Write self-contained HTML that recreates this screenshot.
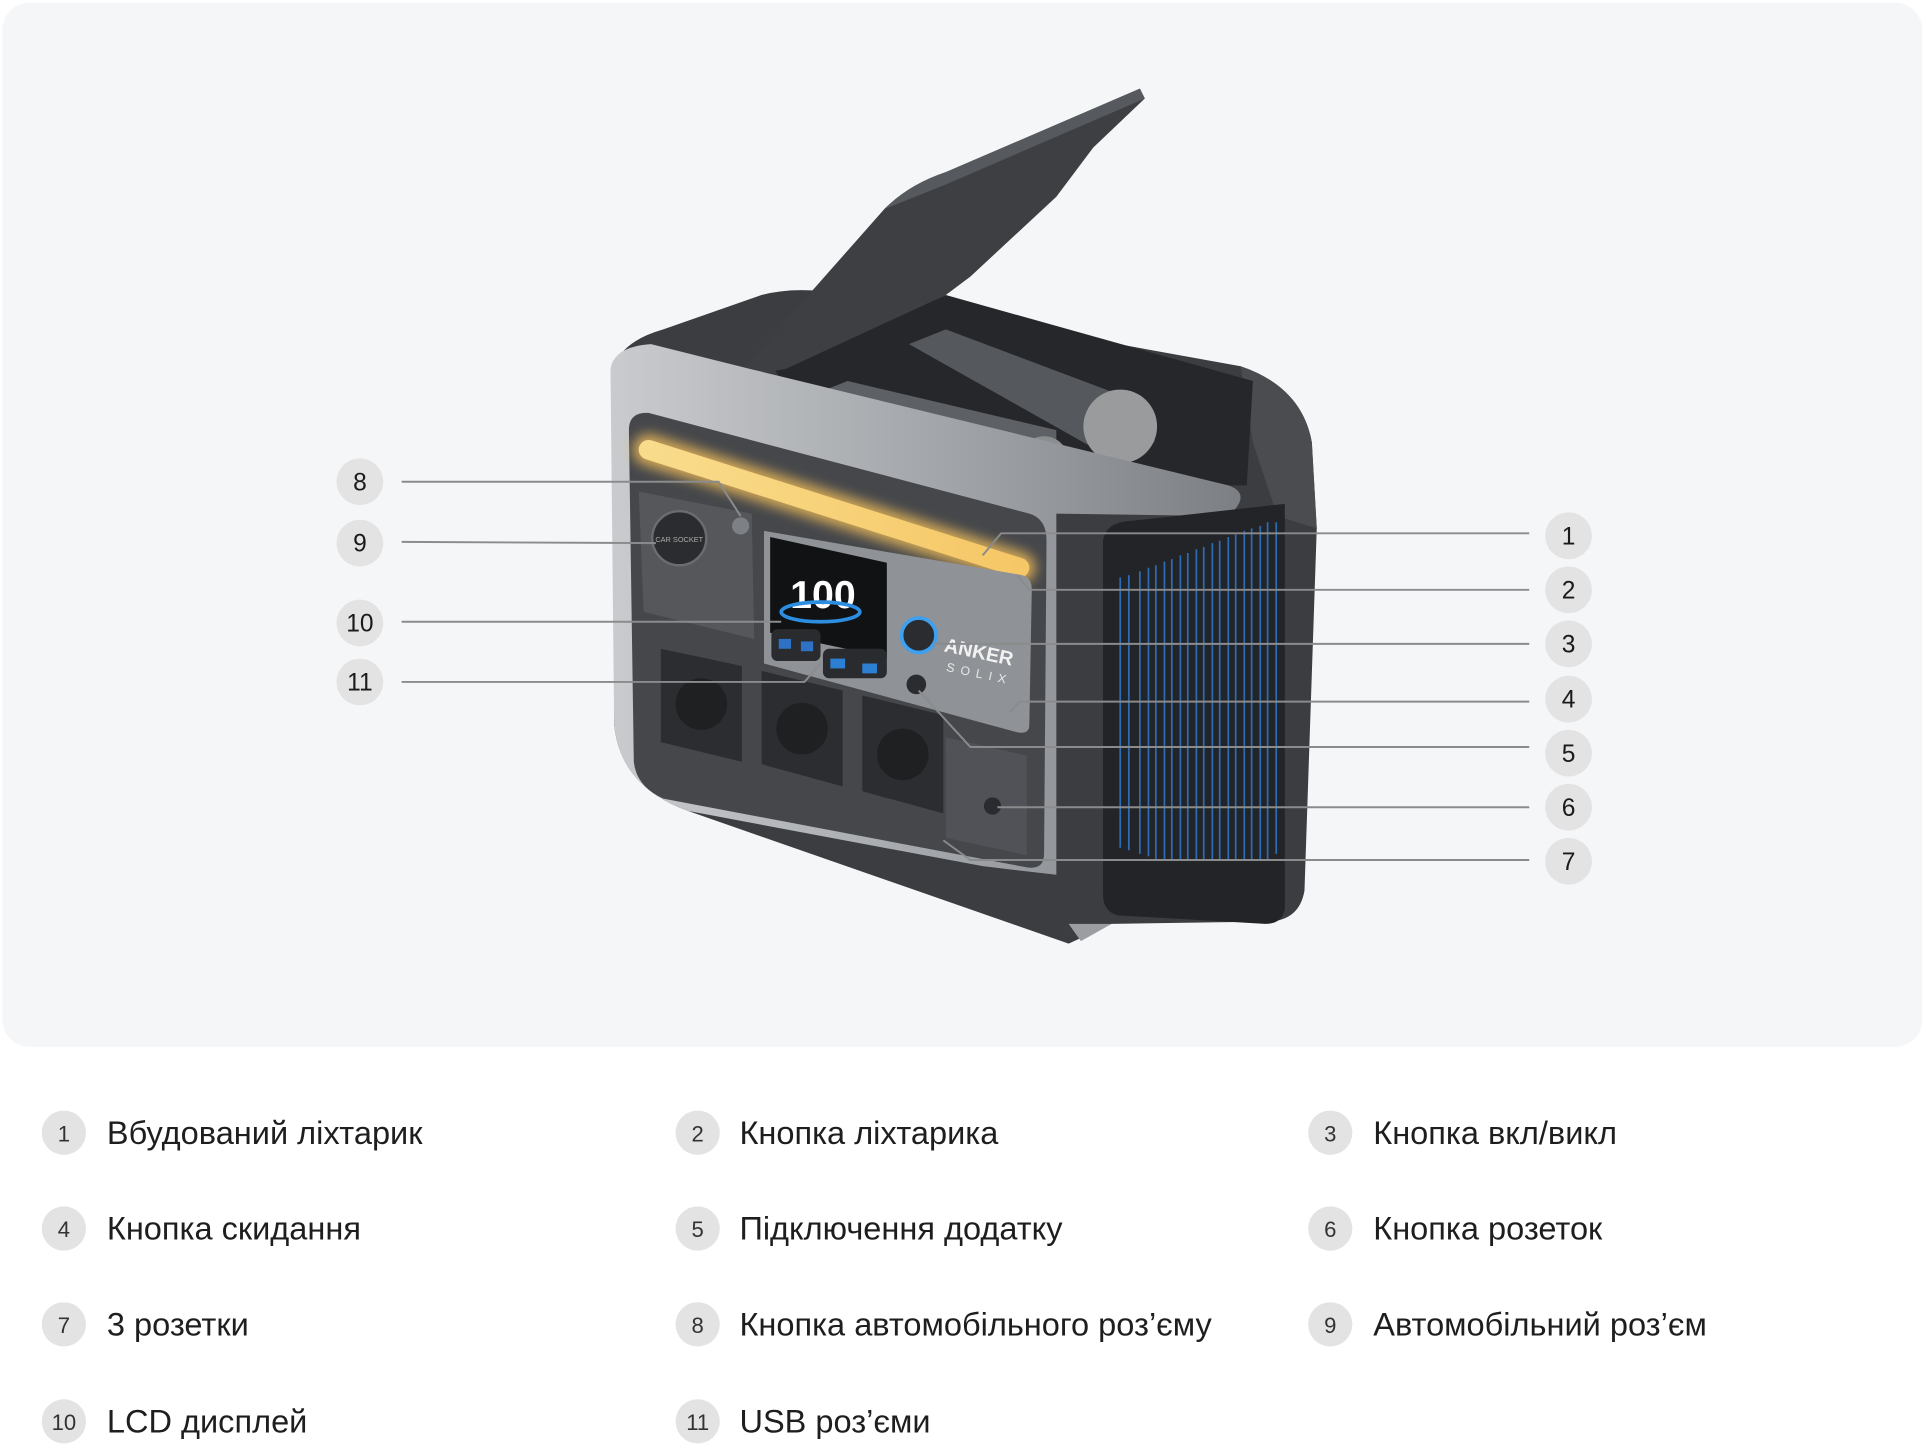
<!DOCTYPE html>
<html><head><meta charset="utf-8"><style>
html,body{margin:0;padding:0;background:#fff;}
svg{display:block;}
text{font-family:"Liberation Sans","DejaVu Sans",sans-serif;}
</style></head><body>
<svg width="1926" height="1456" viewBox="0 0 1568 1185" xmlns="http://www.w3.org/2000/svg">
<defs>
<linearGradient id="face" x1="0" y1="0" x2="1" y2="0">
<stop offset="0" stop-color="#c9cbce"/><stop offset="0.5" stop-color="#a4a7ab"/><stop offset="1" stop-color="#7c7f84"/>
</linearGradient>
<linearGradient id="light" x1="0" y1="0" x2="1" y2="0">
<stop offset="0" stop-color="#f8dc8c"/><stop offset="1" stop-color="#f6c766"/>
</linearGradient>
<filter id="glow" x="-20%" y="-50%" width="140%" height="200%"><feGaussianBlur stdDeviation="5"/></filter>
</defs>
<rect x="2" y="2" width="1563" height="850" rx="22" fill="#f5f6f7"/>

<path d="M500,300 Q505,278 540,268 L620,240 Q650,232 690,240 L1010,298 Q1060,315 1068,360 L1072,430 L1062,725 Q1058,748 1035,750 L905,752 L870,768 L560,660 Q505,640 500,590 Z" fill="#3b3d41"/>
<path d="M1010,298 Q1060,315 1068,360 L1072,430 L1040,420 L1020,360 Z" fill="#4a4c50"/>
<path d="M630,300 L770,240 L1020,310 L1015,395 L860,395 L650,330 Z" fill="#26272a"/>
<path d="M740,280 L770,268 L935,330 L940,360 L900,370 Z" fill="#55585c"/>
<path d="M665,320 L690,310 L860,350 L860,385 L830,390 Z" fill="#5d6064"/>
<circle cx="912" cy="347" r="30" fill="#9a9b9c"/>
<circle cx="850" cy="375" r="20" fill="#8c8d8f"/>
<path d="M598,308 L720,170 Q740,150 770,140 L928,72 L932,80 L890,120 L860,160 L790,225 L770,240 L640,300 Z" fill="#3d3f43"/>
<path d="M720,170 Q740,150 770,140 L928,72 L932,80 L770,150 Z" fill="#56595d"/>
<path d="M497,300 Q500,282 530,280 L610,300 L1000,395 Q1020,402 1000,420 L860,418 L860,712 L800,705 L560,660 Q505,640 500,590 Z" fill="url(#face)"/>
<path d="M512,350 Q512,335 528,336 L838,418 Q852,422 852,440 L850,695 Q850,708 836,706 L540,650 Q518,640 516,620 Z" fill="#45474b"/>
<line x1="528" y1="366" x2="830" y2="462" stroke="#f4c05a" stroke-width="26" stroke-linecap="round" filter="url(#glow)" opacity="0.8"/>
<line x1="528" y1="366" x2="830" y2="462" stroke="url(#light)" stroke-width="16" stroke-linecap="round"/>
<path d="M520,400 L612,418 L614,520 L524,498 Z" fill="#55575b"/>
<circle cx="553" cy="438" r="22" fill="#2b2c2f" stroke="#6a6c70" stroke-width="2"/>
<text x="553" y="441" font-size="6" fill="#aaa" text-anchor="middle">CAR SOCKET</text>
<circle cx="603" cy="428" r="7" fill="#7d8084"/>
<path d="M622,432 L832,468 Q840,470 840,480 L838,590 Q838,598 828,596 L622,540 Z" fill="#8f9296"/>
<path d="M627,437 L722,458 L722,535 L627,515 Z" fill="#111214"/>
<text x="670" y="495" font-size="32" fill="#fff" text-anchor="middle" font-weight="bold">100</text>
<ellipse cx="668" cy="498" rx="32" ry="8" fill="none" stroke="#2c8ee0" stroke-width="3"/>
<rect x="628" y="512" width="40" height="26" rx="5" fill="#2a2b2e"/>
<rect x="670" y="528" width="52" height="24" rx="5" fill="#2a2b2e"/>
<rect x="634" y="520" width="10" height="8" fill="#2d72c4"/><rect x="652" y="522" width="10" height="8" fill="#2d72c4"/>
<rect x="676" y="536" width="12" height="8" fill="#2d7fd4"/><rect x="702" y="540" width="12" height="8" fill="#2d7fd4"/>
<circle cx="748" cy="517" r="14" fill="#2a2c30" stroke="#3da0f0" stroke-width="3"/>
<text x="768" y="530" font-size="16" fill="#f2f2f2" font-weight="bold" transform="rotate(12 768 530)">ANKER</text>
<text x="770" y="546" font-size="10" fill="#e8e8e8" letter-spacing="5" transform="rotate(12 770 546)">SOLIX</text>
<circle cx="746" cy="557" r="8" fill="#2a2c30"/>
<path d="M538,528 L604,542 L604,620 L538,604 Z" fill="#2c2d30"/>
<path d="M620,546 L686,562 L686,640 L620,622 Z" fill="#2c2d30"/>
<path d="M702,566 L768,582 L768,662 L702,644 Z" fill="#2c2d30"/>
<circle cx="571" cy="573" r="21" fill="#1f2022"/><circle cx="653" cy="593" r="21" fill="#1f2022"/><circle cx="735" cy="614" r="21" fill="#1f2022"/>
<path d="M770,600 L836,615 L836,696 L770,682 Z" fill="#505257"/>
<circle cx="808" cy="656" r="7" fill="#2a2b2e"/>
<path d="M898,440 Q900,425 920,424 L1046,410 L1046,740 Q1044,752 1030,752 L910,745 Q898,742 898,728 Z" fill="#232427"/>
<g stroke="#2f7fd8" stroke-width="1.4" opacity="0.8">
<line x1="912" y1="470" x2="912" y2="690"/><line x1="919" y1="468" x2="919" y2="692"/><line x1="928" y1="465" x2="928" y2="695"/><line x1="935" y1="462" x2="935" y2="697"/><line x1="941" y1="460" x2="941" y2="700"/>
<line x1="948" y1="457" x2="948" y2="700"/><line x1="954" y1="455" x2="954" y2="700"/><line x1="961" y1="452" x2="961" y2="700"/><line x1="967" y1="450" x2="967" y2="700"/><line x1="974" y1="447" x2="974" y2="700"/><line x1="980" y1="445" x2="980" y2="700"/>
<line x1="987" y1="442" x2="987" y2="700"/><line x1="993" y1="440" x2="993" y2="700"/><line x1="1000" y1="437" x2="1000" y2="700"/><line x1="1006" y1="435" x2="1006" y2="700"/><line x1="1013" y1="432" x2="1013" y2="700"/><line x1="1019" y1="430" x2="1019" y2="700"/>
<line x1="1026" y1="428" x2="1026" y2="700"/><line x1="1032" y1="425" x2="1032" y2="700"/><line x1="1039" y1="425" x2="1039" y2="695"/>
</g>
<path d="M870,752 L905,752 L880,766 Z" fill="#9b9da1"/>

<g stroke="#8a8b8d" stroke-width="1.6" fill="none">
<polyline points="327,392 585,392 603,420"/>
<polyline points="327,441 534,442"/>
<polyline points="327,506 636,506"/>
<polyline points="327,555 655,555 668,540"/>
<polyline points="1245,434 815,434 800,452"/>
<polyline points="1245,480 838,480 828,468"/>
<polyline points="1245,524 760,524"/>
<polyline points="1245,571 830,571 822,580"/>
<polyline points="1245,608 790,608 748,562"/>
<polyline points="1245,657 812,657"/>
<polyline points="1245,700 790,700 768,684"/>
</g>
<g fill="#e3e3e4">
<circle cx="293" cy="392" r="19"/><circle cx="293" cy="442" r="19"/><circle cx="293" cy="507" r="19"/><circle cx="293" cy="555" r="19"/>
<circle cx="1277" cy="436" r="19"/><circle cx="1277" cy="480" r="19"/><circle cx="1277" cy="524" r="19"/><circle cx="1277" cy="569" r="19"/>
<circle cx="1277" cy="613" r="19"/><circle cx="1277" cy="657" r="19"/><circle cx="1277" cy="701" r="19"/>
</g>
<g font-size="20" fill="#1a1a1a" text-anchor="middle">
<text x="293" y="399">8</text><text x="293" y="449">9</text><text x="293" y="514">10</text><text x="293" y="562">11</text>
<text x="1277" y="443">1</text><text x="1277" y="487">2</text><text x="1277" y="531">3</text><text x="1277" y="576">4</text>
<text x="1277" y="620">5</text><text x="1277" y="664">6</text><text x="1277" y="708">7</text>
</g>

<g fill="#e3e3e4">
<circle cx="52" cy="922" r="18"/><circle cx="568" cy="922" r="18"/><circle cx="1083" cy="922" r="18"/>
<circle cx="52" cy="1000" r="18"/><circle cx="568" cy="1000" r="18"/><circle cx="1083" cy="1000" r="18"/>
<circle cx="52" cy="1078" r="18"/><circle cx="568" cy="1078" r="18"/><circle cx="1083" cy="1078" r="18"/>
<circle cx="52" cy="1157" r="18"/><circle cx="568" cy="1157" r="18"/>
</g>
<g font-size="18" fill="#333" text-anchor="middle">
<text x="52" y="929">1</text><text x="568" y="929">2</text><text x="1083" y="929">3</text>
<text x="52" y="1007">4</text><text x="568" y="1007">5</text><text x="1083" y="1007">6</text>
<text x="52" y="1085">7</text><text x="568" y="1085">8</text><text x="1083" y="1085">9</text>
<text x="52" y="1164">10</text><text x="568" y="1164">11</text>
</g>
<g font-size="26.5" fill="#1e1e1e">
<text x="87" y="931">Вбудований ліхтарик</text>
<text x="602" y="931">Кнопка ліхтарика</text>
<text x="1118" y="931">Кнопка вкл/викл</text>
<text x="87" y="1009">Кнопка скидання</text>
<text x="602" y="1009">Підключення додатку</text>
<text x="1118" y="1009">Кнопка розеток</text>
<text x="87" y="1087">3 розетки</text>
<text x="602" y="1087">Кнопка автомобільного роз’єму</text>
<text x="1118" y="1087">Автомобільний роз’єм</text>
<text x="87" y="1166">LCD дисплей</text>
<text x="602" y="1166">USB роз’єми</text>
</g>
</svg>
</body></html>
